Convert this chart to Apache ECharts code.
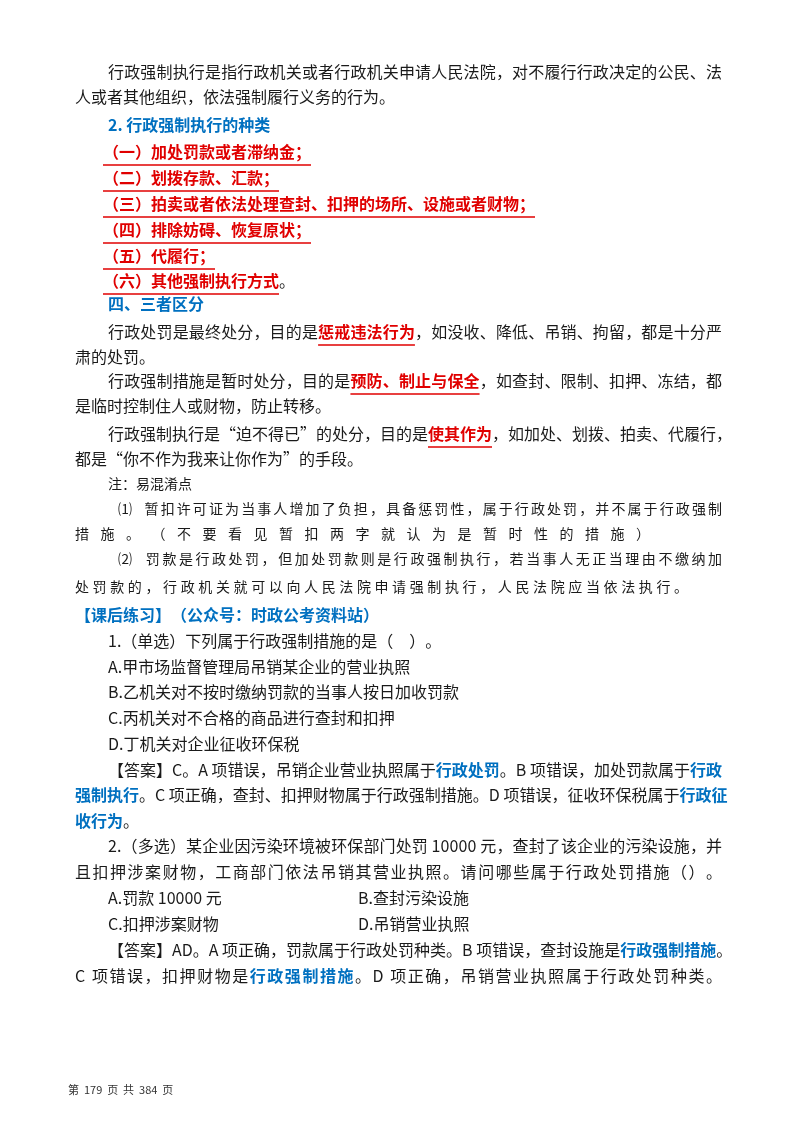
<!DOCTYPE html>
<html><head><meta charset="utf-8">
<script src="https://cdn.jsdelivr.net/npm/echarts@6/dist/echarts.min.js"></script>
<style>html,body{margin:0;padding:0;background:#fff}#c{width:800px;height:1131px}</style>
</head><body><div id="c"></div>
<script>
// Each line: [x, y, justify (0 none, 1 to right margin, or right edge), segments]; segment: [style, text]
const partA = [
 [108,75,1,[['n','行政强制执行是指行政机关或者行政机关申请人民法院，对不履行行政决定的公民、法']]],
 [75,100,0,[['n','人或者其他组织，依法强制履行义务的行为。']]],
 [108,128,0,[['b','2. 行政强制执行的种类']]],
 [103,155,0,[['r','（一）加处罚款或者滞纳金；']]],
 [103,181,0,[['r','（二）划拨存款、汇款；']]],
 [103,207,0,[['r','（三）拍卖或者依法处理查封、扣押的场所、设施或者财物；']]],
 [103,233,0,[['r','（四）排除妨碍、恢复原状；']]],
 [103,259,0,[['r','（五）代履行；']]],
 [103,284,0,[['r','（六）其他强制执行方式'],['n','。']]],
 [108,307,0,[['b','四、三者区分']]]
];
const partB = [
 [108,335,1,[['n','行政处罚是最终处分，目的是'],['r','惩戒违法行为'],['n','，如没收、降低、吊销、拘留，都是十分严']]],
 [75,360,0,[['n','肃的处罚。']]],
 [108,384,1,[['n','行政强制措施是暂时处分，目的是'],['r','预防、制止与保全'],['n','，如查封、限制、扣押、冻结，都']]],
 [75,409,0,[['n','是临时控制住人或财物，防止转移。']]],
 [108,437,1,[['n','行政强制执行是“迫不得已”的处分，目的是'],['r','使其作为'],['n','，如加处、划拨、拍卖、代履行，']]],
 [75,462,0,[['n','都是“你不作为我来让你作为”的手段。']]],
 [108,487,0,[['s','注：易混淆点']]],
 [118,512,1,[['s','⑴  暂扣许可证为当事人增加了负担，具备惩罚性，属于行政处罚，并不属于行政强制']]],
 [75,537,650,[['s','措施。（不要看见暂扣两字就认为是暂时性的措施）']]],
 [118,562,1,[['s','⑵  罚款是行政处罚，但加处罚款则是行政强制执行，若当事人无正当理由不缴纳加']]],
 [75,590,688,[['s','处罚款的，行政机关就可以向人民法院申请强制执行，人民法院应当依法执行。']]]
];
const partC = [
 [75,618,0,[['b','【课后练习】（公众号：时政公考资料站）']]],
 [108,644,0,[['n','1.（单选）下列属于行政强制措施的是（　）。']]],
 [108,670,0,[['n','A.甲市场监督管理局吊销某企业的营业执照']]],
 [108,695,0,[['n','B.乙机关对不按时缴纳罚款的当事人按日加收罚款']]],
 [108,721,0,[['n','C.丙机关对不合格的商品进行查封和扣押']]],
 [108,747,0,[['n','D.丁机关对企业征收环保税']]],
 [108,773,1,[['n','【答案】C。A 项错误，吊销企业营业执照属于'],['b','行政处罚'],['n','。B 项错误，加处罚款属于'],['b','行政']]],
 [75,798,1,[['b','强制执行'],['n','。C 项正确，查封、扣押财物属于行政强制措施。D 项错误，征收环保税属于'],['b','行政征']]],
 [75,824,0,[['b','收行为'],['n','。']]],
 [108,849,1,[['n','2.（多选）某企业因污染环境被环保部门处罚 10000 元，查封了该企业的污染设施，并']]],
 [75,875,1,[['n','且扣押涉案财物，工商部门依法吊销其营业执照。请问哪些属于行政处罚措施（）。']]],
 [108,901,0,[['n','A.罚款 10000 元']]],
 [358,901,0,[['n','B.查封污染设施']]],
 [108,927,0,[['n','C.扣押涉案财物']]],
 [358,927,0,[['n','D.吊销营业执照']]],
 [108,953,1,[['n','【答案】AD。A 项正确，罚款属于行政处罚种类。B 项错误，查封设施是'],['b','行政强制措施'],['n','。']]],
 [75,979,1,[['n','C 项错误，扣押财物是'],['b','行政强制措施'],['n','。D 项正确，吊销营业执照属于行政处罚种类。']]]
];
const footer = '第  179  页  共  384  页';

const FAM = '"Noto Sans CJK SC", sans-serif';
const ST = {
 n:{size:16,weight:'normal',color:'#1a1a1a',ul:false},
 b:{size:16,weight:'bold',color:'#0070C0',ul:false},
 r:{size:16,weight:'bold',color:'#E00000',ul:true},
 s:{size:14,weight:'normal',color:'#1a1a1a',ul:false}
};
const RIGHT = 722;
const cv = document.createElement('canvas').getContext('2d');
function fontOf(s){return s.weight+' '+s.size+'px '+FAM;}
function w(ch,s){cv.font=fontOf(s);return cv.measureText(ch).width;}
const els = [];
[...partA,...partB,...partC].forEach(([x,y,just,segs])=>{
  const chars=[];
  segs.forEach(([k,t])=>{for(const ch of t) chars.push([ch,ST[k],k]);});
  let total=0; chars.forEach(c=>total+=w(c[0],c[1]));
  const right = just===1 ? RIGHT : just;
  let gap = just && chars.length>1 ? Math.max(0,(right-x-total)/(chars.length-1)) : 0;
  if(gap>12) gap=0;
  let cx=x; let ulStart=null, ulColor=null;
  chars.forEach((c,i)=>{
    const cw=w(c[0],c[1]);
    if(c[1].ul && ulStart===null){ulStart=cx;ulColor=c[1].color;}
    els.push({type:'text',left:cx,top:y-c[1].size*0.72,silent:true,
      style:{text:c[0],font:fontOf(c[1]),fill:c[1].color}});
    cx+=cw;
    const next=chars[i+1];
    if(c[1].ul && (!next || !next[1].ul)){
      els.push({type:'line',shape:{x1:ulStart,y1:y+10,x2:cx,y2:y+10},style:{stroke:ulColor,lineWidth:1.5}});
      ulStart=null;
    }
    cx+=gap;
  });
});
els.push({type:'text',left:68,top:1084,style:{text:footer,font:'normal 11px '+FAM,fill:'#333'}});
const chart = echarts.init(document.getElementById('c'),null,{renderer:'canvas'});
chart.setOption({backgroundColor:'#fff',animation:false,graphic:{elements:els}});
</script></body></html>
